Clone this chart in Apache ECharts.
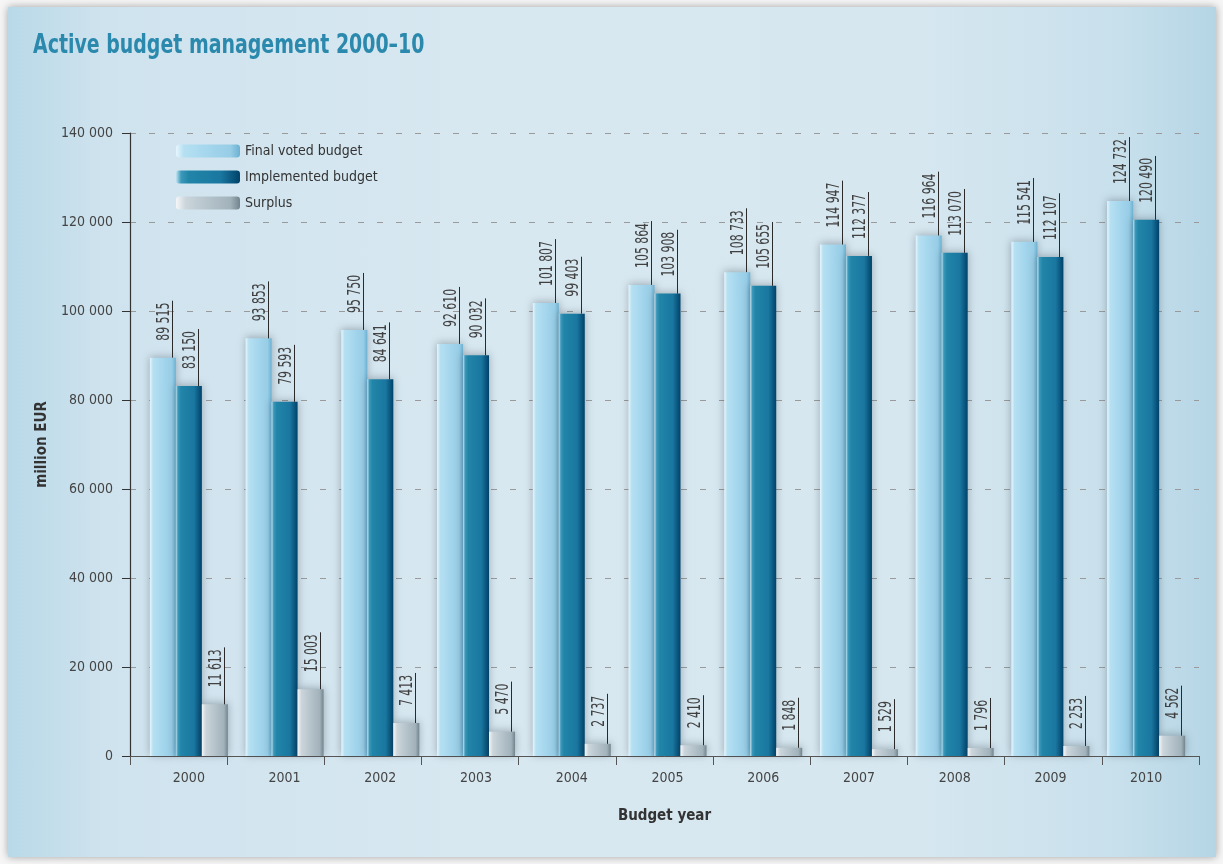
<!DOCTYPE html>
<html>
<head>
<meta charset="utf-8">
<script src="https://cdn.jsdelivr.net/npm/echarts@6/dist/echarts.min.js"></script>
<style>
  html, body { margin: 0; padding: 0; width: 1223px; height: 864px; background: #f6f6f6; overflow: hidden; }
  #panel { position: absolute; left: 8px; top: 7px; width: 1208px; height: 850px;
    background: linear-gradient(to right, #b9d9e8 0%, #cfe3ee 8%, #d8e8f1 40%, #d6e7f0 75%, #c8e0ec 92%, #b5d5e5 100%);
    box-shadow: 0 0 8px rgba(0,0,0,0.35); }
  #chart { position: absolute; left: 0; top: 0; width: 1223px; height: 864px; }
</style>
</head>
<body>
<div id="panel"></div>
<div id="chart"></div>
<script>
const categories = ['2000','2001','2002','2003','2004','2005','2006','2007','2008','2009','2010'];
const finalVoted = [89515, 93853, 95750, 92610, 101807, 105864, 108733, 114947, 116964, 115541, 124732];
const implemented = [83150, 79593, 84641, 90032, 99403, 103908, 105655, 112377, 113070, 112107, 120490];
const surplus = [11613, 15003, 7413, 5470, 2737, 2410, 1848, 1529, 1796, 2253, 4562];
const seriesNames = ['Final voted budget', 'Implemented budget', 'Surplus'];
const titleText = 'Active budget management 2000\u201310';

const FONT = '"Liberation Sans Narrow", "DejaVu Sans Condensed", "Noto Sans", sans-serif';
const fmt = v => String(v).replace(/\B(?=(\d{3})+(?!\d))/g, ' ');

const BAR_W = 26;
const LABEL_SIZE = 18;
const LABEL_SCALE = 0.67;
const LABEL_FONT = LABEL_SIZE + 'px ' + FONT;
const measureCtx = document.createElement('canvas').getContext('2d');
measureCtx.font = LABEL_FONT;

function grad(stops) {
  return new echarts.graphic.LinearGradient(0, 0, 1, 0, stops.map(s => ({offset: s[0], color: s[1]})));
}
const colors = [
  grad([[0,'#e6f6fd'],[0.12,'#b6e0f2'],[0.5,'#a4d6ed'],[0.85,'#97cde6'],[1,'#6cb1d2']]),
  grad([[0,'#bfe3f0'],[0.08,'#3b98ba'],[0.2,'#2185a8'],[0.7,'#1a77a0'],[1,'#00426a']]),
  grad([[0,'#f5f7f8'],[0.15,'#cbd5db'],[0.5,'#b5c3cb'],[0.85,'#a2b2bb'],[1,'#72848e']])
];

const allValues = [finalVoted, implemented, surplus];
const labelData = [];
allValues.forEach((arr, s) => arr.forEach((v, i) => labelData.push([i, v, s])));

const chart = echarts.init(document.getElementById('chart'), null, {renderer: 'canvas'});

const barSeries = allValues.map((arr, s) => ({
  name: seriesNames[s],
  type: 'bar',
  xAxisIndex: 1,
  yAxisIndex: 1,
  data: arr,
  barWidth: BAR_W,
  barGap: '0%',
  itemStyle: {
    color: colors[s],
    shadowBlur: 8,
    shadowColor: 'rgba(40,50,60,0.35)',
    shadowOffsetX: 0,
    shadowOffsetY: -1
  },
  z: 2
}));

const labelSeries = {
  type: 'custom',
  xAxisIndex: 1,
  yAxisIndex: 1,
  data: labelData,
  encode: {x: 0, y: 1},
  z: 5,
  silent: true,
  renderItem: function (params, api) {
    const i = api.value(0), v = api.value(1), s = api.value(2);
    const p = api.coord([i, v]);
    const barLeft = p[0] - 1.5 * BAR_W + s * BAR_W;
    const lineX = Math.round(barLeft + BAR_W - 4) + 0.5;
    const top = p[1];
    const txt = fmt(v);
    const tw = measureCtx.measureText(txt).width * LABEL_SCALE;
    const gap = 17;
    return {
      type: 'group',
      children: [
        {
          type: 'line',
          shape: {x1: lineX, y1: top, x2: lineX, y2: top - gap - tw - 2},
          style: {stroke: '#2a2a2a', lineWidth: 1}
        },
        {
          type: 'text',
          x: lineX - 8,
          y: top - gap,
          rotation: Math.PI / 2,
          scaleX: LABEL_SCALE,
          scaleY: 1,
          style: {
            text: txt,
            font: LABEL_FONT,
            fill: '#404040',
            align: 'left',
            verticalAlign: 'middle'
          }
        }
      ]
    };
  }
};

chart.setOption({
  animation: false,
  backgroundColor: 'transparent',
  graphic: [{
    type: 'text',
    x: 33,
    y: 46,
    scaleX: 0.78,
    style: {
      text: titleText,
      font: 'bold 27px ' + FONT,
      fill: '#2a89ac',
      align: 'left',
      verticalAlign: 'middle'
    }
  }],
  legend: {
    orient: 'vertical',
    left: 176,
    top: 144,
    padding: 0,
    itemWidth: 64,
    itemHeight: 13,
    itemGap: 12,
    data: seriesNames,
    textStyle: {fontFamily: FONT, fontSize: 14, color: '#333'}
  },
  grid: [
    {left: 130, right: 24, top: 133, bottom: 108, containLabel: false},
    {left: 141, right: 29, top: 133, bottom: 108, containLabel: false}
  ],
  xAxis: [{
    type: 'category',
    gridIndex: 0,
    data: categories,
    name: 'Budget year',
    nameLocation: 'middle',
    nameGap: 53,
    nameTextStyle: {fontFamily: FONT, fontSize: 15, fontWeight: 'bold', color: '#333'},
    axisLine: {lineStyle: {color: '#555', width: 1}},
    axisTick: {show: true, length: 9, lineStyle: {color: '#555'}},
    axisLabel: {show: false}
  }, {
    type: 'category',
    gridIndex: 1,
    data: categories,
    axisLine: {show: false},
    axisTick: {show: false},
    axisLabel: {fontFamily: FONT, fontSize: 14, color: '#444', margin: 15}
  }],
  yAxis: [{
    type: 'value',
    gridIndex: 0,
    min: 0,
    max: 140000,
    interval: 20000,
    name: 'million EUR',
    nameLocation: 'middle',
    nameGap: 74,
    nameRotate: 90,
    nameTextStyle: {fontFamily: FONT, fontSize: 15, fontWeight: 'bold', color: '#333'},
    axisLine: {show: true, lineStyle: {color: '#333', width: 1.2}},
    axisTick: {show: true, length: 8, lineStyle: {color: '#333'}},
    axisLabel: {fontFamily: FONT, fontSize: 14, color: '#444', margin: 17, formatter: v => fmt(v)},
    splitLine: {show: true, lineStyle: {color: '#9a9a9a', type: [6, 13], width: 1}}
  }, {
    type: 'value',
    gridIndex: 1,
    min: 0,
    max: 140000,
    interval: 20000,
    show: false
  }],
  series: barSeries.concat([labelSeries])
});
</script>
</body>
</html>
